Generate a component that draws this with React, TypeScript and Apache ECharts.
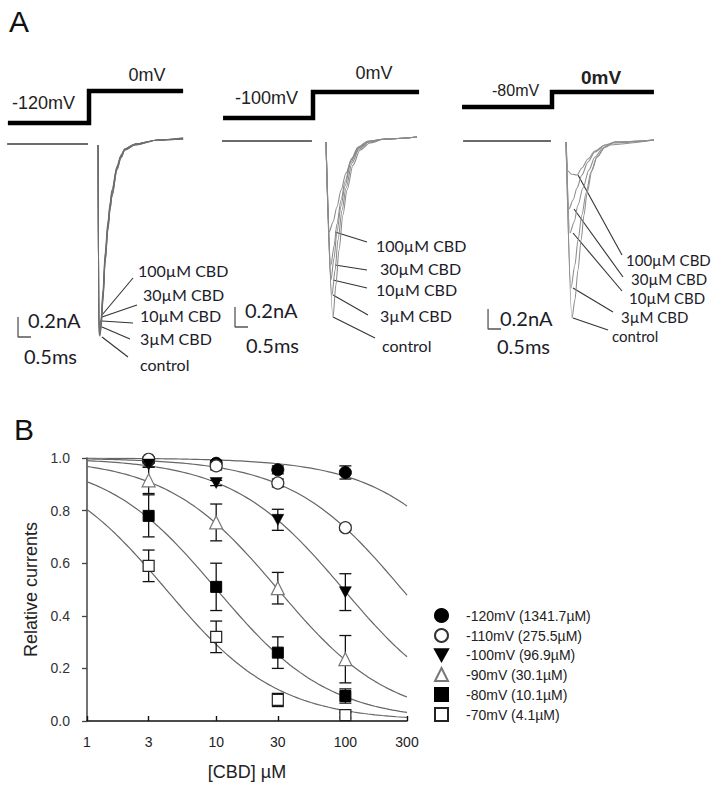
import React, { useEffect, useRef } from 'react';
import * as echarts from 'echarts';

// ================= Panel A data (time in ms, current in nA, voltage in mV) =================
const holdingPotentials = [-120, -100, -80];
const testPotential = 0;
const protocolSpan = [[-3.12, 3.62], [-3.46, 4.08], [-3.46, 3.92]];
const baselineSpan = [[-3.15, -0.04], [-3.5, -0.04], [-3.42, -0.04]];
const traceNames = ['100µM CBD', '30µM CBD', '10µM CBD', '3µM CBD', 'control'];
const scaleCurrent = 0.2; // nA
const scaleTime = 0.5; // ms

// -120 mV
const p1Control = [[0.35, -0.01], [0.38, -1.89], [0.42, -1.92], [0.46, -1.86], [0.54, -1.56], [0.62, -1.19], [0.73, -0.86], [0.81, -0.66], [0.88, -0.53], [1.08, -0.26], [1.23, -0.14], [1.38, -0.06], [1.77, -0.01], [2.65, 0.04], [3.62, 0.06]];
const p1Cbd3 = [[0.35, -0.01], [0.38, -1.87], [0.42, -1.9], [0.46, -1.84], [0.54, -1.54], [0.62, -1.17], [0.73, -0.84], [0.81, -0.65], [0.88, -0.52], [1.08, -0.25], [1.23, -0.13], [1.38, -0.06], [1.77, -0.01], [2.65, 0.04], [3.62, 0.06]];
const p1Cbd10 = [[0.35, -0.01], [0.38, -1.85], [0.42, -1.88], [0.46, -1.82], [0.54, -1.52], [0.62, -1.15], [0.73, -0.82], [0.81, -0.63], [0.88, -0.5], [1.08, -0.24], [1.23, -0.12], [1.38, -0.05], [1.77, 0.0], [2.65, 0.04], [3.62, 0.05]];
const p1Cbd30 = [[0.35, -0.01], [0.38, -1.82], [0.42, -1.85], [0.46, -1.79], [0.54, -1.49], [0.62, -1.12], [0.73, -0.8], [0.81, -0.61], [0.88, -0.48], [1.08, -0.23], [1.23, -0.12], [1.38, -0.05], [1.77, 0.0], [2.65, 0.04], [3.62, 0.05]];
const p1Cbd100 = [[0.35, -0.01], [0.38, -1.78], [0.42, -1.81], [0.46, -1.75], [0.54, -1.45], [0.62, -1.09], [0.73, -0.77], [0.81, -0.59], [0.88, -0.46], [1.08, -0.22], [1.23, -0.11], [1.38, -0.05], [1.77, 0.0], [2.65, 0.04], [3.62, 0.05]];

// -100 mV
const p2Control = [[0.5, -0.01], [0.77, -1.76], [0.88, -1.44], [1.0, -1.09], [1.15, -0.74], [1.31, -0.49], [1.54, -0.24], [1.81, -0.09], [2.19, -0.02], [2.77, 0.02], [4.0, 0.04]];
const p2Cbd3 = [[0.5, -0.01], [0.73, -1.54], [0.85, -1.29], [0.96, -0.99], [1.12, -0.69], [1.27, -0.47], [1.5, -0.22], [1.77, -0.08], [2.15, -0.01], [2.77, 0.02], [4.0, 0.04]];
const p2Cbd10 = [[0.5, -0.01], [0.69, -1.39], [0.81, -1.17], [0.92, -0.91], [1.08, -0.65], [1.23, -0.45], [1.46, -0.21], [1.73, -0.07], [2.12, -0.01], [2.77, 0.02], [4.0, 0.04]];
const p2Cbd30 = [[0.5, -0.01], [0.69, -1.24], [0.81, -1.05], [0.92, -0.83], [1.08, -0.59], [1.23, -0.41], [1.46, -0.19], [1.73, -0.06], [2.12, 0.0], [2.77, 0.02], [4.0, 0.04]];
const p2Cbd100 = [[0.5, -0.01], [0.62, -0.91], [0.77, -0.81], [0.92, -0.66], [1.08, -0.49], [1.27, -0.32], [1.5, -0.17], [1.81, -0.06], [2.19, 0.0], [2.77, 0.02], [4.0, 0.04]];

// -80 mV
const p3Control = [[0.54, -0.01], [0.77, -1.77], [0.88, -1.59], [1.0, -1.29], [1.12, -0.99], [1.23, -0.74], [1.35, -0.52], [1.54, -0.29], [1.73, -0.16], [2.04, -0.06], [2.42, -0.01], [3.92, 0.01]];
const p3Cbd3 = [[0.54, -0.01], [0.73, -1.47], [0.88, -1.24], [1.0, -0.99], [1.15, -0.74], [1.31, -0.52], [1.5, -0.31], [1.73, -0.16], [2.04, -0.06], [2.42, -0.01], [3.92, 0.01]];
const p3Cbd10 = [[0.54, -0.01], [0.69, -0.92], [0.85, -0.81], [1.0, -0.64], [1.19, -0.47], [1.42, -0.29], [1.65, -0.16], [1.96, -0.07], [2.35, -0.02], [3.92, 0.01]];
const p3Cbd30 = [[0.54, -0.01], [0.65, -0.68], [0.81, -0.59], [0.96, -0.47], [1.15, -0.34], [1.38, -0.21], [1.65, -0.11], [2.04, -0.04], [3.92, 0.01]];
const p3Cbd100 = [[0.54, -0.01], [0.62, -0.3], [0.73, -0.33], [0.96, -0.34], [1.15, -0.27], [1.38, -0.18], [1.65, -0.1], [2.04, -0.04], [2.42, -0.01], [3.92, 0.01]];

const panelTraces = [
  [p1Cbd100, p1Cbd30, p1Cbd10, p1Cbd3, p1Control],
  [p2Cbd100, p2Cbd30, p2Cbd10, p2Cbd3, p2Control],
  [p3Cbd100, p3Cbd30, p3Cbd10, p3Cbd3, p3Control],
];

// ================= Panel B data =================
const concentrations = [3, 10, 30, 100]; // µM
const xTicks = [1, 3, 10, 30, 100, 300];
const yTicks = [0, 0.2, 0.4, 0.6, 0.8, 1.0];
const voltageNames = ['-120mV', '-110mV', '-100mV', '-90mV', '-80mV', '-70mV'];
const ic50 = [1341.7, 275.5, 96.9, 30.1, 10.1, 4.1]; // µM
const HILL = 1;
const mean120 = [0.99, 0.98, 0.955, 0.945];
const err120 = [0.01, 0.01, 0.015, 0.025];
const mean110 = [0.995, 0.97, 0.905, 0.735];
const err110 = [0.01, 0.015, 0.015, 0.01];
const mean100 = [0.975, 0.905, 0.765, 0.49];
const err100 = [0.01, 0.01, 0.04, 0.07];
const mean90 = [0.915, 0.755, 0.505, 0.235];
const err90 = [0.05, 0.07, 0.06, 0.09];
const mean80 = [0.78, 0.51, 0.26, 0.095];
const err80 = [0.08, 0.09, 0.06, 0.027];
const mean70 = [0.59, 0.32, 0.08, 0.022];
const err70 = [0.06, 0.06, 0.025, 0.01];
const means = [mean120, mean110, mean100, mean90, mean80, mean70];
const errs = [err120, err110, err100, err90, err80, err70];

// ================= Layout / style =================
const PX_PER_MS = 26;
const PX_PER_NA = 100;
const A_TOP = 50;
const A_BOTTOM = 390;
const panels = [
  { left: 0, right: 240, stepX: 89, zeroY: 144, mvZeroY: 91, pxPerMv: 32 / 120, bar: [-2.73, -1.93], traceColor: '#6e6e6e' },
  { left: 215, right: 455, stepX: 313, zeroY: 141, mvZeroY: 92, pxPerMv: 26 / 100, bar: [-3.0, -1.86], traceColor: '#8a8a8a' },
  { left: 455, right: 722, stepX: 552, zeroY: 141, mvZeroY: 92, pxPerMv: 15 / 80, bar: [-2.46, -1.88], traceColor: '#8f8f8f' },
];
const FONT_ARIAL = '"Liberation Sans", Arial, sans-serif';
const FONT_CAL = 'Lato, "Open Sans", sans-serif';

const markerStyles = [
  { symbol: 'circle', size: 12, itemStyle: { color: '#000', borderColor: '#000', borderWidth: 1, opacity: 1 } },
  { symbol: 'circle', size: 12, itemStyle: { color: '#fff', borderColor: '#333', borderWidth: 1.2, opacity: 1 } },
  { symbol: 'path://M0,0L10,0L5,9Z', size: [12, 11], itemStyle: { color: '#000', borderColor: '#000', borderWidth: 0.5, opacity: 1 } },
  { symbol: 'triangle', size: 13, itemStyle: { color: '#fff', borderColor: '#777', borderWidth: 1.2, opacity: 1 } },
  { symbol: 'rect', size: 11, itemStyle: { color: '#000', borderColor: '#000', borderWidth: 1, opacity: 1 } },
  { symbol: 'rect', size: 11, itemStyle: { color: '#fff', borderColor: '#222', borderWidth: 1.2, opacity: 1 } },
];

// text annotations (pixel layout)
const voltLabels = [
  { text: '-120mV', x: 12, y: 103, size: 18, align: 'left', weight: 'normal' },
  { text: '0mV', x: 147, y: 75, size: 18, align: 'center', weight: 'normal' },
  { text: '-100mV', x: 235, y: 98, size: 18, align: 'left', weight: 'normal' },
  { text: '0mV', x: 374, y: 73, size: 18, align: 'center', weight: 'normal' },
  { text: '-80mV', x: 492, y: 90, size: 16, align: 'left', weight: 'normal' },
  { text: '0mV', x: 601, y: 77, size: 19, align: 'center', weight: 'bold' },
];
const labelFont = [16, 16, 15];
const labelPos = [
  [[138, 270], [143, 294], [140, 315], [140, 338], [140, 364]],
  [[376, 245], [380, 268], [376, 289], [380, 315], [382, 345]],
  [[626, 260], [631, 279], [629, 298], [621, 317], [612, 336]],
];
const leaderPos = [
  [[133, 278, 102, 315], [137, 305, 102, 317], [133, 323, 102, 321], [130, 339, 102, 327], [128, 357, 102, 337]],
  [[367, 242, 335, 232], [367, 270, 335, 265], [367, 288, 333, 280], [368, 315, 333, 295], [375, 338, 333, 317]],
  [[622, 255, 578, 175], [623, 277, 574, 209], [622, 291, 573, 233], [613, 312, 573, 288], [608, 330, 573, 318]],
];
const scaleLabelPos = [
  [[28, 320], [24, 356]],
  [[245, 310], [246, 345]],
  [[500, 318], [497, 346]],
];

function buildOption() {
  const grid: any[] = [];
  const xAxis: any[] = [];
  const yAxis: any[] = [];
  const series: any[] = [];

  panels.forEach((p, i) => {
    grid.push({ left: p.left, top: A_TOP, width: p.right - p.left, height: A_BOTTOM - A_TOP, outerBoundsMode: 'none' });
    xAxis.push({
      gridIndex: i, type: 'value', show: false,
      min: (p.left - p.stepX) / PX_PER_MS, max: (p.right - p.stepX) / PX_PER_MS,
    });
    yAxis.push({
      gridIndex: i, type: 'value', show: false,
      min: -(A_BOTTOM - p.zeroY) / PX_PER_NA, max: (p.zeroY - A_TOP) / PX_PER_NA,
    });
    yAxis.push({
      gridIndex: i, type: 'value', show: false,
      min: -(A_BOTTOM - p.mvZeroY) / p.pxPerMv, max: (p.mvZeroY - A_TOP) / p.pxPerMv,
    });
    const hold = holdingPotentials[i];
    const [t0, t1] = protocolSpan[i];
    series.push({
      type: 'line', xAxisIndex: i, yAxisIndex: 2 * i + 1, symbol: 'none', silent: true,
      data: [[t0, hold], [0, hold], [0, testPotential], [t1, testPotential]],
      lineStyle: { color: '#000', width: 4.5, join: 'miter', cap: 'butt' }, z: 3,
    });
    const [b0, b1] = baselineSpan[i];
    series.push({
      type: 'line', xAxisIndex: i, yAxisIndex: 2 * i, symbol: 'none', silent: true,
      data: [[b0, 0], [b1, 0]],
      lineStyle: { color: '#3a3a3a', width: 1.6 }, z: 3,
    });
    panelTraces[i].forEach((tr, k) => {
      series.push({
        name: `${holdingPotentials[i]}mV ${traceNames[k]}`,
        type: 'line', xAxisIndex: i, yAxisIndex: 2 * i, symbol: 'none', silent: true,
        data: tr, smooth: 0.3, smoothMonotone: 'x',
        lineStyle: { color: p.traceColor, width: 1.1 }, z: 2,
      });
    });
    const [bt, bi] = p.bar;
    series.push({
      type: 'line', xAxisIndex: i, yAxisIndex: 2 * i, symbol: 'none', silent: true,
      data: [[bt, bi + scaleCurrent], [bt, bi], [bt + scaleTime, bi]],
      lineStyle: { color: '#555', width: 1.3 }, z: 3,
    });
  });

  // Panel B
  const bIdx = 3;
  const xMax = Math.log10(300);
  const xTickLog = xTicks.map((v) => Math.log10(v));
  grid.push({ left: 87, top: 458, width: 320, height: 263, outerBoundsMode: 'none' });
  xAxis.push({
    gridIndex: bIdx, type: 'value', min: 0, max: xMax, offset: 6,
    axisLine: { show: true, lineStyle: { color: '#111', width: 1.6 } },
    axisTick: { show: true, inside: true, length: 5, customValues: xTickLog, lineStyle: { color: '#111', width: 1.4 } },
    axisLabel: {
      show: true, customValues: xTickLog, margin: 8,
      formatter: (v: number) => String(Math.round(Math.pow(10, v))),
      fontSize: 14, fontFamily: FONT_ARIAL, color: '#222',
    },
    splitLine: { show: false }, minorTick: { show: false },
    name: '[CBD] µM', nameLocation: 'middle', nameGap: 36,
    nameTextStyle: { fontSize: 18, fontFamily: FONT_ARIAL, color: '#222' },
  });
  yAxis.push({
    gridIndex: bIdx, type: 'value', min: yTicks[0], max: yTicks[yTicks.length - 1], interval: 0.2, offset: 7,
    axisLine: { show: true, lineStyle: { color: '#444', width: 1.5 } },
    axisTick: { show: true, inside: false, length: 5, lineStyle: { color: '#444', width: 1.3 } },
    axisLabel: {
      show: true, margin: 10, formatter: (v: number) => v.toFixed(1),
      fontSize: 14, fontFamily: FONT_ARIAL, color: '#333',
    },
    splitLine: { show: false },
    name: 'Relative currents', nameLocation: 'middle', nameGap: 40,
    nameTextStyle: { fontSize: 18, fontFamily: FONT_ARIAL, color: '#222' },
  });
  const bx = bIdx;
  const by = 6;
  const legendNames: string[] = [];

  ic50.forEach((k) => {
    const curve: number[][] = [];
    const N = 90;
    for (let j = 0; j <= N; j++) {
      const lx = (j * xMax) / N;
      curve.push([lx, 1 / (1 + Math.pow(Math.pow(10, lx) / k, HILL))]);
    }
    series.push({
      type: 'line', xAxisIndex: bx, yAxisIndex: by, symbol: 'none', silent: true, smooth: false,
      data: curve, lineStyle: { color: '#666', width: 1.2 }, z: 1,
    });
  });

  voltageNames.forEach((v, i) => {
    const name = `${v} (${ic50[i]}µM)`;
    legendNames.push(name);
    const pts = concentrations.map((c, j) => [Math.log10(c), means[i][j], errs[i][j]]);
    series.push({
      type: 'custom', xAxisIndex: bx, yAxisIndex: by, silent: true,
      name: `${v} SEM`, z: 2 + 2 * i,
      data: pts, encode: { x: 0, y: 1 },
      renderItem: (params: any, api: any) => {
        const x = api.value(0);
        const y = api.value(1);
        const e = api.value(2);
        const top = api.coord([x, y + e]);
        const bot = api.coord([x, y - e]);
        const hw = 6;
        const st = { stroke: '#111', lineWidth: 1.3 };
        return {
          type: 'group',
          children: [
            { type: 'line', shape: { x1: top[0], y1: top[1], x2: bot[0], y2: bot[1] }, style: st },
            { type: 'line', shape: { x1: top[0] - hw, y1: top[1], x2: top[0] + hw, y2: top[1] }, style: st },
            { type: 'line', shape: { x1: bot[0] - hw, y1: bot[1], x2: bot[0] + hw, y2: bot[1] }, style: st },
          ],
        };
      },
    });
    const m = markerStyles[i];
    series.push({
      type: 'scatter', xAxisIndex: bx, yAxisIndex: by, name, z: 3 + 2 * i,
      symbol: m.symbol, symbolSize: m.size, itemStyle: m.itemStyle,
      emphasis: { disabled: true },
      data: pts.map((p) => [p[0], p[1]]),
    });
  });

  // graphic annotations
  const graphic: any[] = [];
  graphic.push({ type: 'text', x: 9, y: 21, silent: true, style: { text: 'A', fontSize: 30, fontFamily: FONT_ARIAL, fill: '#111', align: 'left', verticalAlign: 'middle' } });
  graphic.push({ type: 'text', x: 14, y: 429, silent: true, style: { text: 'B', fontSize: 30, fontFamily: FONT_ARIAL, fill: '#111', align: 'left', verticalAlign: 'middle' } });
  voltLabels.forEach((l) => {
    graphic.push({ type: 'text', x: l.x, y: l.y, silent: true, style: { text: l.text, fontSize: l.size, fontWeight: l.weight, fontFamily: FONT_ARIAL, fill: '#222', align: l.align, verticalAlign: 'middle' } });
  });
  labelPos.forEach((arr, i) => {
    arr.forEach((pos, k) => {
      graphic.push({ type: 'text', x: pos[0], y: pos[1], silent: true, style: { text: traceNames[k], fontSize: labelFont[i], fontFamily: FONT_CAL, fill: '#1c1c2a', align: 'left', verticalAlign: 'middle' } });
      const L = leaderPos[i][k];
      graphic.push({ type: 'line', silent: true, shape: { x1: L[0], y1: L[1], x2: L[2], y2: L[3] }, style: { stroke: '#333', lineWidth: 1.1 } });
    });
  });
  scaleLabelPos.forEach((arr) => {
    graphic.push({ type: 'text', x: arr[0][0], y: arr[0][1], silent: true, style: { text: `${scaleCurrent}nA`, fontSize: 20, fontFamily: FONT_CAL, fill: '#1c1c2a', align: 'left', verticalAlign: 'middle' } });
    graphic.push({ type: 'text', x: arr[1][0], y: arr[1][1], silent: true, style: { text: `${scaleTime}ms`, fontSize: 20, fontFamily: FONT_CAL, fill: '#1c1c2a', align: 'left', verticalAlign: 'middle' } });
  });

  return {
    animation: false,
    backgroundColor: '#fff',
    textStyle: { fontFamily: FONT_ARIAL },
    grid, xAxis, yAxis, series, graphic,
    legend: {
      data: legendNames, orient: 'vertical', left: 434, top: 608,
      itemWidth: 13, itemHeight: 13, itemGap: 5, padding: 0, selectedMode: false,
      textStyle: { fontSize: 14, fontFamily: FONT_ARIAL, color: '#222', padding: [0, 0, 0, 13] },
    },
    tooltip: { show: false },
  };
}

export default function App() {
  const ref = useRef<HTMLDivElement>(null);
  useEffect(() => {
    if (!ref.current) return;
    const chart = echarts.init(ref.current, undefined, { renderer: 'svg' });
    chart.setOption(buildOption() as any);
    return () => chart.dispose();
  }, []);
  return <div ref={ref} style={{ position: 'absolute', left: 0, top: 0, width: 722, height: 791 }} />;
}
